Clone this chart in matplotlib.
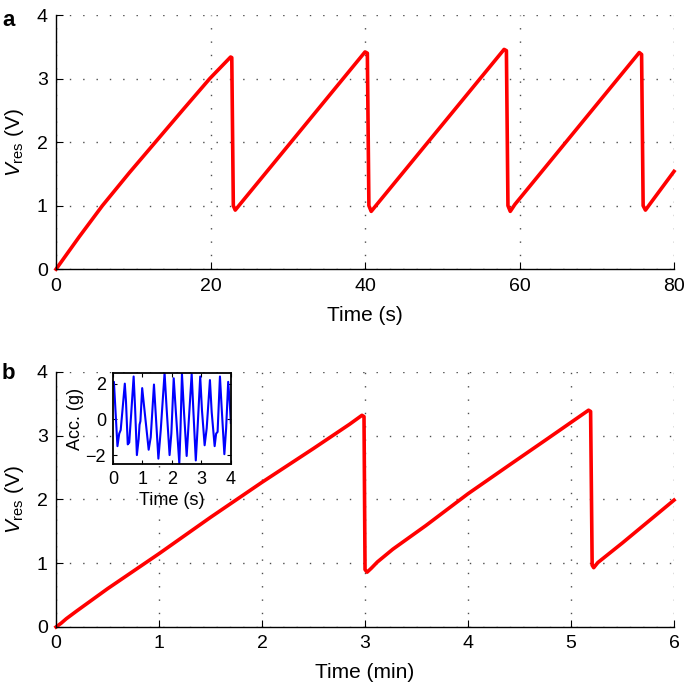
import matplotlib
matplotlib.use("Agg")
import matplotlib.pyplot as plt

plt.rcParams['font.family'] = ['Liberation Sans', 'DejaVu Sans']
plt.rcParams['mathtext.fontset'] = 'custom'
plt.rcParams['mathtext.rm'] = 'Liberation Sans'
plt.rcParams['mathtext.it'] = 'Liberation Sans:italic'

# Panel a data (time in s, voltage in V)
t_a = [0, 3, 6, 9.5, 13, 16.5, 19.9, 22.6, 22.75, 22.95, 23.2,
       23.8, 40.0, 40.3, 40.5, 40.8,
       41.4, 58.0, 58.3, 58.5, 58.8,
       59.4, 75.5, 75.8, 76.0, 76.3,
       76.9, 80.0]
v_a = [0, 0.51, 1.0, 1.52, 2.02, 2.52, 3.0, 3.34, 3.33, 1.0, 0.93,
       1.02, 3.42, 3.40, 1.0, 0.91,
       1.0, 3.46, 3.44, 1.0, 0.91,
       1.02, 3.41, 3.38, 1.0, 0.93,
       1.03, 1.54]

# Panel b data (time in min, voltage in V)
t_b = [0, 0.05, 0.1, 0.2, 0.5, 1.0, 1.5, 2.0, 2.5, 2.85, 2.97, 2.99, 3.0, 3.02,
       3.06, 3.12, 3.27, 3.59, 4.0, 4.41, 4.76, 5.17, 5.19, 5.205, 5.22,
       5.26, 5.5, 6.0]
v_b = [0, 0.06, 0.13, 0.25, 0.6, 1.15, 1.72, 2.27, 2.8, 3.18, 3.32, 3.30, 0.9, 0.86,
       0.92, 1.02, 1.22, 1.59, 2.09, 2.55, 2.94, 3.40, 3.38, 0.97, 0.93,
       1.01, 1.32, 1.99]

# Inset: acceleration (time in s, acc in g)
t_in = [0.0, 0.03, 0.15, 0.21, 0.26, 0.32, 0.40, 0.44, 0.50, 0.55, 0.62, 0.70,
        0.75, 0.81, 0.87, 0.90, 0.93, 0.99, 1.05, 1.21, 1.28, 1.39, 1.45, 1.54,
        1.62, 1.75, 1.82, 1.92, 1.98, 2.06, 2.13, 2.25, 2.29, 2.34, 2.41, 2.50,
        2.56, 2.67, 2.73, 2.81, 2.87, 2.96, 3.02, 3.11, 3.18, 3.29, 3.35, 3.45,
        3.50, 3.55, 3.63, 3.69, 3.78, 3.84, 3.91, 3.96, 4.0]
a_in = [1.9, 2.1, -1.5, -0.8, -0.6, 0.5, 2.0, 1.0, -1.4, -1.3, 0.4, 2.4,
        0.6, -2.0, -1.1, -0.3, -0.1, 1.75, 0.8, -1.7, -1.0, 1.95, 0.3, -2.2,
        -0.6, 2.6, 0.6, -2.0, -0.8, 2.3, 0.5, -2.47, -0.6, 2.55, 0.4, -2.05,
        -0.4, 2.55, 0.4, -2.3, -0.5, 2.4, 0.5, -1.45, -0.5, 2.2, 0.4, -1.5,
        -0.8, -0.7, 2.4, 0.6, -1.95, -0.5, 2.1, 1.0, -0.2]

xt_a = [0, 20, 40, 60, 80]
xt_b = [0, 1, 2, 3, 4, 5, 6]
yt = [0, 1, 2, 3, 4]
xt_in = [0, 1, 2, 3, 4]
yt_in = [-2, 0, 2]

fig = plt.figure(figsize=(6.85, 6.85), dpi=100)

def style_main(ax):
    for s in ['top', 'right']:
        ax.spines[s].set_visible(False)
    for s in ['left', 'bottom']:
        ax.spines[s].set_linewidth(1.0)
    ax.tick_params(direction='in', length=5, width=0.8, labelsize=14, pad=6)
    ax.grid(True, linestyle=(0, (1, 8.6)), color='0.3', linewidth=1.0)
    ax.set_axisbelow(True)

ax1 = fig.add_axes([0.0818, 0.607, 0.9022, 0.371])
ax1.plot(t_a, v_a, color='#ff0000', lw=2.6, solid_joinstyle='round', clip_on=False)
ax1.set_xlim(0, 80)
ax1.set_ylim(0, 4)
ax1.set_xticks(xt_a)
ax1.set_yticks(yt)
style_main(ax1)
ax1.set_xlabel('Time (s)', fontsize=15, labelpad=8)
ax1.set_ylabel(r'$V_{\rm res}$ (V)', fontsize=15, labelpad=8)

ax2 = fig.add_axes([0.0818, 0.0847, 0.9022, 0.3723])
ax2.plot(t_b, v_b, color='#ff0000', lw=2.6, solid_joinstyle='round', clip_on=False)
ax2.set_xlim(0, 6)
ax2.set_ylim(0, 4)
ax2.set_xticks(xt_b)
ax2.set_yticks(yt)
style_main(ax2)
ax2.set_xlabel('Time (min)', fontsize=15, labelpad=8)
ax2.set_ylabel(r'$V_{\rm res}$ (V)', fontsize=15, labelpad=8)

axi = fig.add_axes([0.165, 0.3226, 0.172, 0.133])
axi.plot(t_in, a_in, color='#0000ff', lw=1.5)
axi.set_xlim(0, 4)
axi.set_ylim(-2.5, 2.6)
axi.set_xticks(xt_in)
axi.set_yticks(yt_in)
axi.set_yticklabels(['\u22122', '0', '2'])
axi.tick_params(direction='in', length=3, width=0.8, labelsize=13, pad=5,
                top=True, right=True)
for s in axi.spines.values():
    s.set_linewidth(1.3)
axi.set_xlabel('Time (s)', fontsize=13, labelpad=3)
axi.set_ylabel('Acc. (g)', fontsize=13, labelpad=1)

fig.text(0.003, 0.985, 'a', fontsize=16, fontweight='bold', va='top', ha='left')
fig.text(0.003, 0.470, 'b', fontsize=16, fontweight='bold', va='top', ha='left')

fig.savefig('out.png', dpi=100)
